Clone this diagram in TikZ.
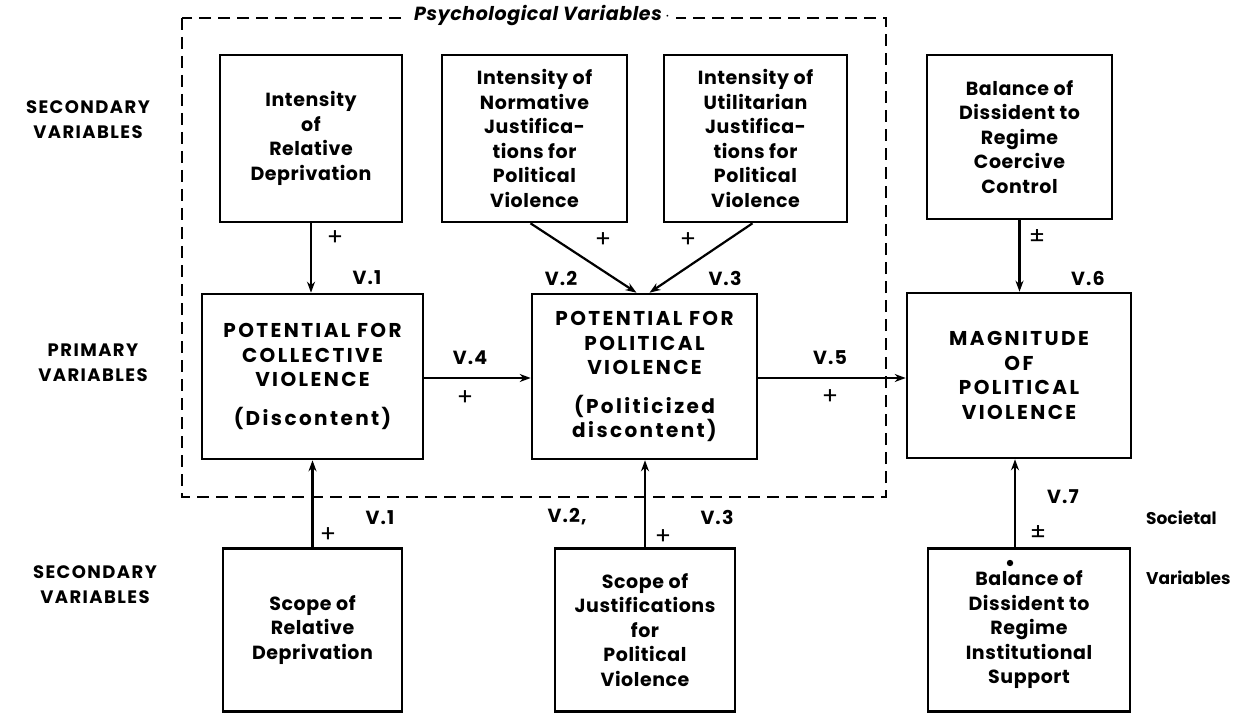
\documentclass[tikz,border=0pt]{standalone}
\usepackage{fontspec}
\setmainfont{Poppins}
\usetikzlibrary{arrows.meta,calc}
\begin{document}
\begin{tikzpicture}[x=1pt,y=-1pt,
  box/.style={draw, line width=2.6pt, inner sep=0pt, align=center,
    font=\fontsize{19}{24.5}\selectfont\bfseries\addfontfeatures{LetterSpace=3}},
  capbox/.style={box,
    font=\fontsize{20}{24.5}\selectfont\bfseries\addfontfeatures{LetterSpace=12}},
  arr/.style={line width=2.2pt, -{Stealth[length=11pt,width=8pt]}},
  vlab/.style={font=\fontsize{19}{20}\selectfont\bfseries\addfontfeatures{LetterSpace=6}, inner sep=0pt},
  sign/.style={font=\fontsize{24}{24}\selectfont, inner sep=0pt},
  side/.style={font=\fontsize{18}{25}\selectfont\bfseries\addfontfeatures{LetterSpace=8}, align=center, inner sep=0pt},
  soclab/.style={font=\fontsize{17}{20}\selectfont\bfseries, anchor=west, inner sep=0pt},
  frame/.style={line width=2.8pt, dash pattern=on 12pt off 7pt}
]
\useasboundingbox (0,0) rectangle (1237,714);

% psychological variables frame
\draw[frame] (182,18) rectangle (886,497);
\node[fill=white, inner xsep=6pt, inner ysep=2pt,
  font=\fontsize{19}{20}\selectfont\bfseries\itshape\addfontfeatures{LetterSpace=3}] (psy) at (542,16) {Psychological Variables\,$\cdot$};

% row labels
\node[side] (sec1) at (88,120) {SECONDARY\\VARIABLES};
\node[side] (prim) at (93,363) {PRIMARY\\VARIABLES};
\node[side] (sec2) at (95,585) {SECONDARY\\VARIABLES};

% secondary (psychological) variables
\node[box, minimum width=182pt, minimum height=167pt] (b1) at (311,138.5)
  {Intensity\\of\\Relative\\Deprivation};
\node[box, minimum width=185pt, minimum height=167pt] (b2) at (534.5,138.5)
  {Intensity of\\Normative\\Justifica-\\tions for\\Political\\Violence};
\node[box, minimum width=183pt, minimum height=167pt] (b3) at (755.5,138.5)
  {Intensity of\\Utilitarian\\Justifica-\\tions for\\Political\\Violence};
\node[box, minimum width=185pt, minimum height=164pt] (b4) at (1019.5,137)
  {Balance of\\Dissident to\\Regime\\Coercive\\Control};

% primary variables
\node[capbox, minimum width=221pt, minimum height=165pt] (b5) at (312.5,376.5)
  {POTENTIAL FOR\\COLLECTIVE\\VIOLENCE\\[14pt](Discontent)};
\node[capbox, minimum width=225pt, minimum height=165pt] (b6) at (644.5,376.5)
  {POTENTIAL FOR\\POLITICAL\\VIOLENCE\\[14pt](Politicized\\discontent)};
\node[capbox, minimum width=224pt, minimum height=165pt] (b7) at (1019,375.5)
  {MAGNITUDE\\OF\\POLITICAL\\VIOLENCE};

% secondary (societal) variables
\node[box, minimum width=179pt, minimum height=163pt] (b8) at (312.5,630)
  {Scope of\\Relative\\Deprivation};
\node[box, minimum width=180pt, minimum height=163pt] (b9) at (645,630)
  {Scope of\\Justifications\\for\\Political\\Violence};
\node[box, minimum width=202pt, minimum height=163pt] (b10) at (1029,630)
  {Balance of\\Dissident to\\Regime\\Institutional\\Support};
\fill (1010,563) circle (3.2pt);

\node[soclab] (soc1) at (1146,518) {Societal};
\node[soclab] (soc2) at (1146,578) {Variables};

% connectors
\draw[arr] (b1.south) -- (b1.south |- b5.north);
\draw[arr] ([xshift=-4pt]b2.south) -- ([xshift=-8pt]b6.north);
\draw[arr] ([xshift=-3pt]b3.south) -- ([xshift=5pt]b6.north);
\draw[arr] (b4.south) -- (b4.south |- b7.north);
\draw[arr] (b5.east |- 0,378) -- (b6.west |- 0,378);
\draw[arr] (b6.east |- 0,378) -- (b7.west |- 0,378);
\draw[arr] (b8.north) -- (b8.north |- b5.south);
\draw[arr] (b9.north) -- (b9.north |- b6.south);
\draw[arr] ([xshift=-14pt]b10.north) -- ([xshift=-14pt]b10.north |- b7.south);

% link labels
\node[sign] (p1) at (335,238) {+};
\node[vlab] (v1a) at (367,278) {V.1};
\node[sign] (p2) at (603,240) {+};
\node[sign] (p3) at (688,240) {+};
\node[vlab] (v2a) at (561,278) {V.2};
\node[vlab] (v3a) at (725,278) {V.3};
\node[vlab] (v4) at (470,358) {V.4};
\node[sign] (p4) at (465,398) {+};
\node[vlab] (v5) at (830,358) {V.5};
\node[sign] (p5) at (830,397) {+};
\node[sign] (pm1) at (1037,237) {±};
\node[vlab] (v6) at (1088,278) {V.6};
\node[vlab] (v1b) at (380,518) {V.1};
\node[sign] (p6) at (328,535) {+};
\node[vlab] (v2b) at (567,517) {V.2,};
\node[vlab] (v3b) at (717,517) {V.3};
\node[sign] (p7) at (663,537) {+};
\node[vlab] (v7) at (1063,497) {V.7};
\node[sign] (pm2) at (1038,533) {±};
\end{tikzpicture}
\end{document}
